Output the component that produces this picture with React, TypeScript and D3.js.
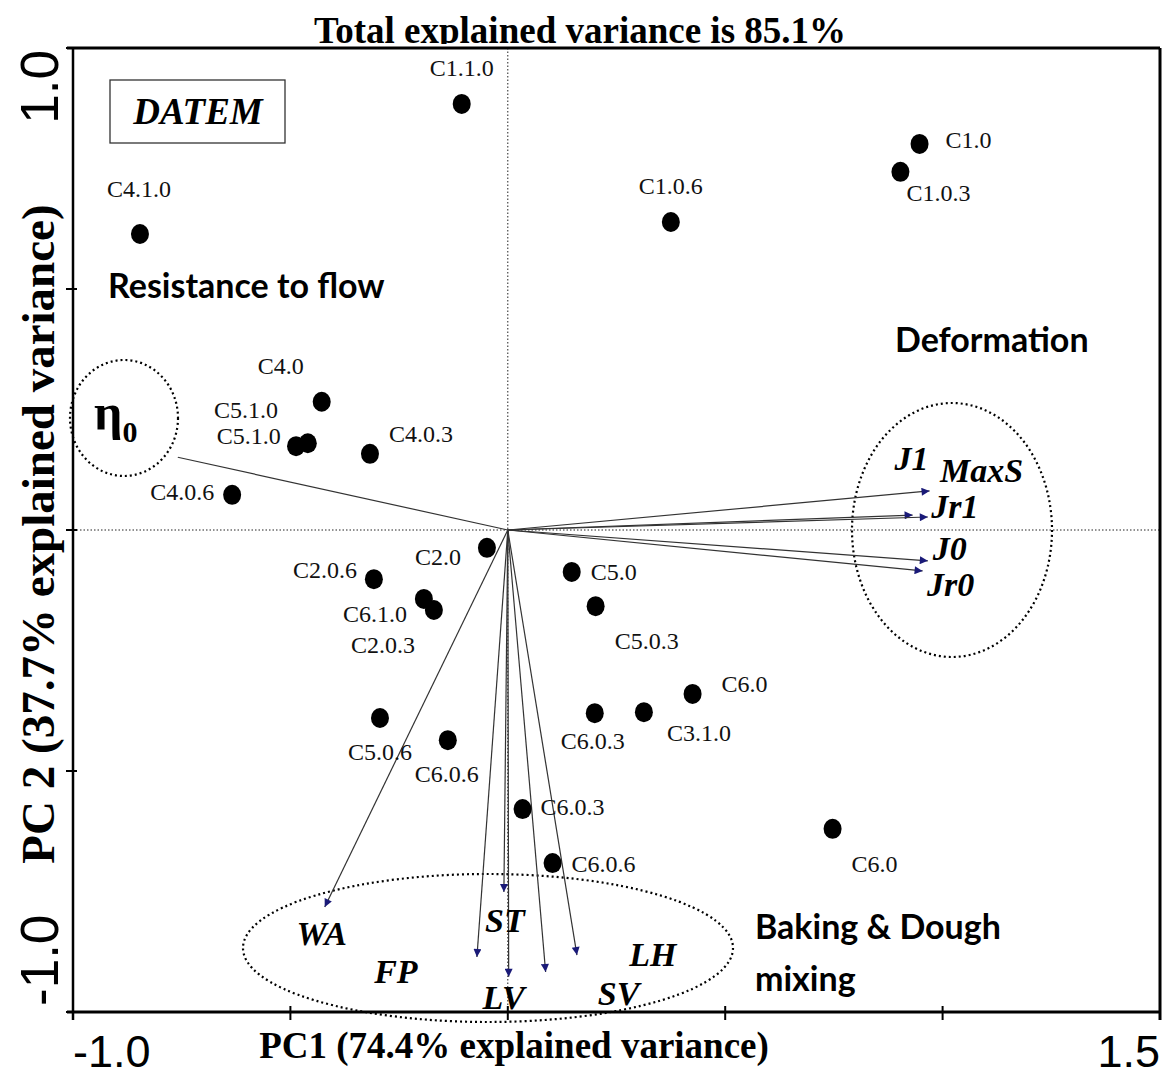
import React from "react";
import * as d3 from "d3";

// PCA biplot: sample scores (dots) and variable loadings (arrows)
const scoreNames = [
  "C1.1.0", "C1.0", "C1.0.3", "C1.0.6", "C4.1.0", "C4.0", "C5.1.0", "C5.1.0",
  "C4.0.3", "C4.0.6", "C2.0", "C2.0.6", "C6.1.0", "C2.0.3", "C5.0", "C5.0.3",
  "C6.0", "C3.1.0", "C6.0.3", "C5.0.6", "C6.0.6", "C6.0.3", "C6.0.6", "C6.0",
];
const scorePC1 = [
  -0.106, 0.947, 0.903, 0.375, -0.846, -0.428, -0.487, -0.46,
  -0.317, -0.634, -0.048, -0.308, -0.193, -0.17, 0.147, 0.202,
  0.425, 0.313, 0.2, -0.294, -0.138, 0.034, 0.103, 0.747,
];
const scorePC2 = [
  0.884, 0.801, 0.743, 0.639, 0.614, 0.266, 0.174, 0.18,
  0.158, 0.073, -0.037, -0.102, -0.143, -0.166, -0.087, -0.158,
  -0.34, -0.378, -0.38, -0.39, -0.436, -0.579, -0.691, -0.62,
];

const loadingNames = ["η", "J1", "MaxS", "Jr1", "J0", "Jr0", "WA", "FP", "ST", "LV", "SV", "LH"];
const loadingPC1 = [-0.759, 0.97, 0.931, 0.966, 0.966, 0.954, -0.421, -0.071, -0.009, 0.002, 0.087, 0.159];
const loadingPC2 = [0.151, 0.081, 0.031, 0.027, -0.064, -0.085, -0.782, -0.886, -0.751, -0.927, -0.917, -0.882];

const xTicks = [-1, -0.5, 0, 0.5, 1, 1.5];
const yTicks = [-1, -0.5, 0, 0.5, 1];

const title = "Total explained variance is 85.1%";
const xTitle = "PC1 (74.4% explained variance)";
const yTitle = "PC 2 (37.7% explained variance)";

// label placement (pixel offsets from each dot: dx to text start, dy to baseline)
const scoreLabelOffset: [number, number][] = [
  [-32, -28], [26, 4], [6, 29], [-32, -28], [-33, -37], [-64, -28], [-82, -28], [-91, 1],
  [19, -12], [-82, 5], [-72, 17], [-81, -1], [-81, 23], [-83, 43], [19, 8], [19, 43],
  [29, -2], [23, 29], [-34, 36], [-32, 42], [-33, 42], [18, 6], [19, 9], [19, 43],
];
// loading label centres, pixel offsets from arrow tips
const loadingLabelOffset: [number, number][] = [
  [-62, -42], [-18, -33], [69, -45], [27, -11], [22, -13], [28, 13],
  [-3, 26], [-81, 14], [1, 28], [-5, 20], [73, 21], [76, -1],
];

const W = 1163;
const H = 1078;
const serif = "'Liberation Serif', 'Times New Roman', serif";
const sans = "'Liberation Sans', Arial, sans-serif";
const calib = "Lato, 'Open Sans', sans-serif";

const fmt = (v: number) => d3.format(".1f")(v).replace("\u2212", "-");

export default function App() {
  const x = d3.scaleLinear().domain([-1, 1.5]).range([73, 1160]);
  const y = d3.scaleLinear().domain([-1, 1]).range([1012, 48]);
  const x0 = x(0);
  const y0 = y(0);
  const [left, right] = x.range();
  const [bottom, top] = y.range();

  return (
    <svg
      width={W}
      height={H}
      viewBox={`0 0 ${W} ${H}`}
      style={{ position: "absolute", left: 0, top: 0, display: "block", background: "#fff" }}
    >
      <defs>
        <marker
          id="tip"
          viewBox="0 0 10 10"
          refX="10"
          refY="5"
          markerWidth="12"
          markerHeight="8"
          markerUnits="userSpaceOnUse"
          orient="auto"
        >
          <path d="M0,0 L10,5 L0,10 z" fill="#1a1a78" />
        </marker>
        <clipPath id="titleClip">
          <rect x={0} y={0} width={W} height={44} />
        </clipPath>
      </defs>
      <rect x={0} y={0} width={W} height={H} fill="#fff" />

      {/* title, cut off by the plot frame */}
      <text
        x={580}
        y={43}
        textAnchor="middle"
        fontFamily={serif}
        fontWeight="bold"
        fontSize={37}
        clipPath="url(#titleClip)"
      >
        {title}
      </text>

      {/* zero reference lines */}
      <line x1={x0} x2={x0} y1={top} y2={bottom} stroke="#222" strokeWidth={1} strokeDasharray="1.5,2" />
      <line x1={left} x2={right} y1={y0} y2={y0} stroke="#222" strokeWidth={1} strokeDasharray="1.5,2" />

      {/* frame */}
      <line x1={left - 6} x2={right} y1={top} y2={top} stroke="#000" strokeWidth={3} />
      <line x1={right} x2={right} y1={top} y2={bottom + 8} stroke="#000" strokeWidth={3} />
      <line x1={left} x2={left} y1={top} y2={bottom + 8} stroke="#000" strokeWidth={2.5} />
      <line x1={left - 6} x2={right} y1={bottom} y2={bottom} stroke="#000" strokeWidth={3} />

      {/* ticks */}
      {xTicks.map((t) => (
        <line key={"xt" + t} x1={x(t)} x2={x(t)} y1={bottom - 6} y2={bottom + 8} stroke="#000" strokeWidth={2} />
      ))}
      {yTicks.map((t) => (
        <line key={"yt" + t} x1={left - 7} x2={left + 4} y1={y(t)} y2={y(t)} stroke="#000" strokeWidth={2} />
      ))}

      {/* tick labels */}
      <text x={left} y={1067} fontFamily={sans} fontSize={45} fill="#000">
        {fmt(xTicks[0])}
      </text>
      <text x={right} y={1067} textAnchor="end" fontFamily={sans} fontSize={45} fill="#000">
        {fmt(xTicks[xTicks.length - 1])}
      </text>
      <text
        transform={`translate(58,${y(yTicks[yTicks.length - 1]) + 2}) rotate(-90)`}
        textAnchor="end"
        fontFamily={sans}
        fontSize={53}
      >
        {fmt(yTicks[yTicks.length - 1])}
      </text>
      <text
        transform={`translate(58,${y(yTicks[0]) - 6}) rotate(-90)`}
        textAnchor="start"
        fontFamily={sans}
        fontSize={53}
      >
        {fmt(yTicks[0])}
      </text>

      {/* axis titles */}
      <text x={514} y={1058} textAnchor="middle" fontFamily={serif} fontWeight="bold" fontSize={37}>
        {xTitle}
      </text>
      <text
        transform={`translate(54,534) rotate(-90)`}
        textAnchor="middle"
        fontFamily={serif}
        fontWeight="bold"
        fontSize={47}
      >
        {yTitle}
      </text>

      {/* DATEM box */}
      <rect x={110} y={80} width={175} height={63} fill="none" stroke="#333" strokeWidth={1.3} />
      <text x={198} y={124} textAnchor="middle" fontFamily={serif} fontWeight="bold" fontStyle="italic" fontSize={37}>
        DATEM
      </text>

      {/* group annotations */}
      <g fontFamily={calib} fontWeight="bold" fontSize={34} fill="#000">
        <text x={108} y={298}>Resistance to flow</text>
        <text x={895} y={352}>Deformation</text>
        <text x={755} y={939}>Baking &amp; Dough</text>
        <text x={755} y={991}>mixing</text>
      </g>

      {/* dotted groupings */}
      <g fill="none" stroke="#000" strokeWidth={2.2} strokeDasharray="2,3">
        <ellipse cx={124} cy={418} rx={54} ry={58} />
        <ellipse cx={952} cy={530} rx={100} ry={127} />
        <ellipse cx={488} cy={948} rx={245} ry={74} />
      </g>

      {/* loadings */}
      {loadingNames.map((n, i) => (
        <line
          key={"ld" + i}
          x1={x0}
          y1={y0}
          x2={x(loadingPC1[i])}
          y2={y(loadingPC2[i])}
          stroke="#333"
          strokeWidth={1.2}
          markerEnd={i === 0 ? undefined : "url(#tip)"}
        />
      ))}
      {loadingNames.map((n, i) => {
        const lx = x(loadingPC1[i]) + loadingLabelOffset[i][0];
        const ly = y(loadingPC2[i]) + loadingLabelOffset[i][1];
        if (i === 0) {
          return (
            <text key={"ll" + i} x={lx} y={ly + 14} textAnchor="middle" fontFamily={serif} fontWeight="bold" fontSize={50}>
              {n}
              <tspan fontSize={30} dy={13}>0</tspan>
            </text>
          );
        }
        return (
          <text
            key={"ll" + i}
            x={lx}
            y={ly}
            dy="0.35em"
            textAnchor="middle"
            fontFamily={serif}
            fontWeight="bold"
            fontStyle="italic"
            fontSize={34}
          >
            {n}
          </text>
        );
      })}

      {/* scores */}
      {scoreNames.map((n, i) => (
        <ellipse key={"pt" + i} cx={x(scorePC1[i])} cy={y(scorePC2[i])} rx={9} ry={10} fill="#000" />
      ))}
      {scoreNames.map((n, i) => (
        <text
          key={"pl" + i}
          x={x(scorePC1[i]) + scoreLabelOffset[i][0]}
          y={y(scorePC2[i]) + scoreLabelOffset[i][1]}
          fontFamily={serif}
          fontSize={24}
          fill="#111"
        >
          {n}
        </text>
      ))}
    </svg>
  );
}
